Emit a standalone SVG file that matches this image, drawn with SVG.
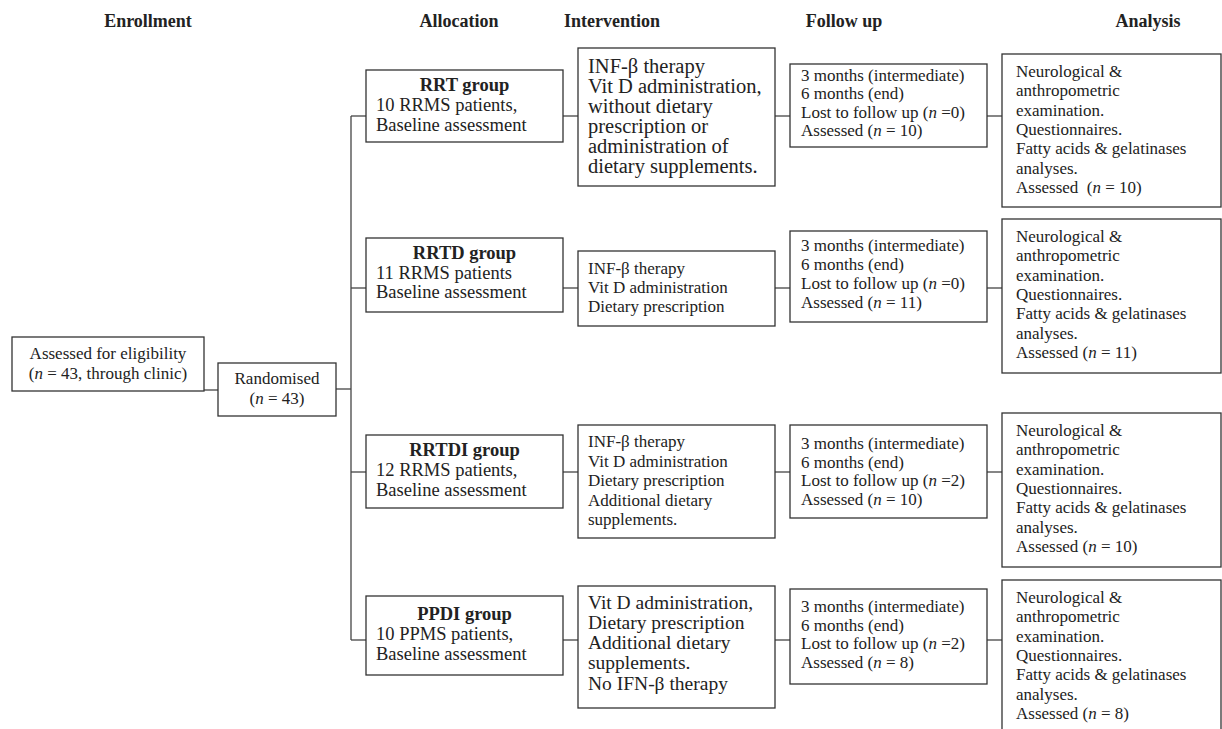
<svg xmlns="http://www.w3.org/2000/svg" width="1222" height="729" viewBox="0 0 1222 729">
<style>
text{font-family:"Liberation Serif","Times New Roman",serif;fill:#222;}
.h{font-size:18px;font-weight:bold;text-anchor:middle;}
.b{fill:#fff;stroke:#333;stroke-width:1.3;}
.c line{stroke:#444;stroke-width:1.3;}
.s17{font-size:17px;}
.s18{font-size:18.5px;}
.s20{font-size:20.5px;}
.s19{font-size:19.5px;}
.m{text-anchor:middle;}
.bd{font-weight:bold;}
.i{font-style:italic;}
</style>
<rect width="1222" height="729" fill="#fff"/>
<g id="headers">
<text class="h" x="148" y="27">Enrollment</text>
<text class="h" x="459" y="27">Allocation</text>
<text class="h" x="612" y="27">Intervention</text>
<text class="h" x="844" y="27">Follow up</text>
<text class="h" x="1148" y="27">Analysis</text>
</g>
<g id="connectors" class="c">
<line x1="204" y1="390" x2="218" y2="390"/>
<line x1="336" y1="389" x2="351" y2="389"/>
<line x1="351" y1="116" x2="351" y2="640"/>
<line x1="351" y1="116" x2="366" y2="116"/>
<line x1="351" y1="288" x2="366" y2="288"/>
<line x1="351" y1="472" x2="366" y2="472"/>
<line x1="351" y1="640" x2="366" y2="640"/>
<line x1="563" y1="116" x2="578" y2="116"/>
<line x1="775" y1="116" x2="790" y2="116"/>
<line x1="987" y1="116" x2="1002" y2="116"/>
<line x1="563" y1="288" x2="578" y2="288"/>
<line x1="775" y1="288" x2="790" y2="288"/>
<line x1="987" y1="288" x2="1002" y2="288"/>
<line x1="563" y1="472" x2="578" y2="472"/>
<line x1="775" y1="472" x2="790" y2="472"/>
<line x1="987" y1="472" x2="1002" y2="472"/>
<line x1="563" y1="640" x2="578" y2="640"/>
<line x1="775" y1="640" x2="790" y2="640"/>
<line x1="987" y1="640" x2="1002" y2="640"/>
</g>
<g id="assessed">
<rect class="b" x="12" y="337" width="192" height="54"/>
<text class="s17 m" x="108" y="359">Assessed for eligibility</text>
<text class="s17 m" x="108" y="379">(<tspan class="i">n</tspan> = 43, through clinic)</text>
</g>
<g id="randomised">
<rect class="b" x="218" y="363" width="118" height="53"/>
<text class="s17 m" x="277" y="384">Randomised</text>
<text class="s17 m" x="277" y="404">(<tspan class="i">n</tspan> = 43)</text>
</g>
<g id="alloc-rrt">
<rect class="b" x="366" y="70" width="197" height="72"/>
<text class="s18 m bd" x="464.5" y="91">RRT group</text>
<text class="s18" x="376" y="111">10 RRMS patients,</text>
<text class="s18" x="376" y="131">Baseline assessment</text>
</g>
<g id="alloc-rrtd">
<rect class="b" x="366" y="238" width="197" height="74"/>
<text class="s18 m bd" x="464.5" y="259">RRTD group</text>
<text class="s18" x="376" y="279">11 RRMS patients</text>
<text class="s18" x="376" y="298">Baseline assessment</text>
</g>
<g id="alloc-rrtdi">
<rect class="b" x="366" y="435" width="197" height="73"/>
<text class="s18 m bd" x="464.5" y="456">RRTDI group</text>
<text class="s18" x="376" y="476">12 RRMS patients,</text>
<text class="s18" x="376" y="496">Baseline assessment</text>
</g>
<g id="alloc-ppdi">
<rect class="b" x="366" y="596" width="197" height="79"/>
<text class="s18 m bd" x="464.5" y="619.5">PPDI group</text>
<text class="s18" x="376" y="640">10 PPMS patients,</text>
<text class="s18" x="376" y="660">Baseline assessment</text>
</g>
<g id="int-rrt">
<rect class="b" x="578" y="48" width="197" height="138"/>
<text class="s20" x="588" y="73">INF-β therapy</text>
<text class="s20" x="588" y="93">Vit D administration,</text>
<text class="s20" x="588" y="113">without dietary</text>
<text class="s20" x="588" y="133">prescription or</text>
<text class="s20" x="588" y="153">administration of</text>
<text class="s20" x="588" y="173">dietary supplements.</text>
</g>
<g id="int-rrtd">
<rect class="b" x="578" y="251" width="197" height="75"/>
<text class="s17" x="588" y="274">INF-β therapy</text>
<text class="s17" x="588" y="293">Vit D administration</text>
<text class="s17" x="588" y="312">Dietary prescription</text>
</g>
<g id="int-rrtdi">
<rect class="b" x="578" y="425" width="197" height="113"/>
<text class="s17" x="588" y="447">INF-β therapy</text>
<text class="s17" x="588" y="466.5">Vit D administration</text>
<text class="s17" x="588" y="486">Dietary prescription</text>
<text class="s17" x="588" y="505.5">Additional dietary</text>
<text class="s17" x="588" y="525">supplements.</text>
</g>
<g id="int-ppdi">
<rect class="b" x="578" y="586" width="197" height="122"/>
<text class="s19" x="588" y="609">Vit D administration,</text>
<text class="s19" x="588" y="629">Dietary prescription</text>
<text class="s19" x="588" y="649">Additional dietary</text>
<text class="s19" x="588" y="669">supplements.</text>
<text class="s19" x="588" y="690">No IFN-β therapy</text>
</g>
<g id="fu-rrt">
<rect class="b" x="790" y="64" width="197" height="83"/>
<text class="s17" x="801" y="80.5">3 months (intermediate)</text>
<text class="s17" x="801" y="99">6 months (end)</text>
<text class="s17" x="801" y="117.5">Lost to follow up (<tspan class="i">n</tspan> =0)</text>
<text class="s17" x="801" y="136">Assessed (<tspan class="i">n</tspan> = 10)</text>
</g>
<g id="fu-rrtd">
<rect class="b" x="790" y="231" width="197" height="91"/>
<text class="s17" x="801" y="251">3 months (intermediate)</text>
<text class="s17" x="801" y="270">6 months (end)</text>
<text class="s17" x="801" y="289">Lost to follow up (<tspan class="i">n</tspan> =0)</text>
<text class="s17" x="801" y="308">Assessed (<tspan class="i">n</tspan> = 11)</text>
</g>
<g id="fu-rrtdi">
<rect class="b" x="790" y="425" width="197" height="93"/>
<text class="s17" x="801" y="449">3 months (intermediate)</text>
<text class="s17" x="801" y="467.5">6 months (end)</text>
<text class="s17" x="801" y="486">Lost to follow up (<tspan class="i">n</tspan> =2)</text>
<text class="s17" x="801" y="504.5">Assessed (<tspan class="i">n</tspan> = 10)</text>
</g>
<g id="fu-ppdi">
<rect class="b" x="790" y="589" width="197" height="95"/>
<text class="s17" x="801" y="612">3 months (intermediate)</text>
<text class="s17" x="801" y="630.5">6 months (end)</text>
<text class="s17" x="801" y="649">Lost to follow up (<tspan class="i">n</tspan> =2)</text>
<text class="s17" x="801" y="667.5">Assessed (<tspan class="i">n</tspan> = 8)</text>
</g>
<g id="an-rrt">
<rect class="b" x="1002" y="54" width="219" height="153"/>
<text class="s17" x="1016" y="77">Neurological &amp;</text>
<text class="s17" x="1016" y="96.3">anthropometric</text>
<text class="s17" x="1016" y="115.6">examination.</text>
<text class="s17" x="1016" y="134.9">Questionnaires.</text>
<text class="s17" x="1016" y="154.2">Fatty acids &amp; gelatinases</text>
<text class="s17" x="1016" y="173.5">analyses.</text>
<text class="s17" x="1016" y="192.8">Assessed&#160; (<tspan class="i">n</tspan> = 10)</text>
</g>
<g id="an-rrtd">
<rect class="b" x="1002" y="219" width="219" height="154"/>
<text class="s17" x="1016" y="242">Neurological &amp;</text>
<text class="s17" x="1016" y="261.3">anthropometric</text>
<text class="s17" x="1016" y="280.6">examination.</text>
<text class="s17" x="1016" y="299.9">Questionnaires.</text>
<text class="s17" x="1016" y="319.2">Fatty acids &amp; gelatinases</text>
<text class="s17" x="1016" y="338.5">analyses.</text>
<text class="s17" x="1016" y="357.8">Assessed (<tspan class="i">n</tspan> = 11)</text>
</g>
<g id="an-rrtdi">
<rect class="b" x="1002" y="413" width="219" height="154"/>
<text class="s17" x="1016" y="436">Neurological &amp;</text>
<text class="s17" x="1016" y="455.3">anthropometric</text>
<text class="s17" x="1016" y="474.6">examination.</text>
<text class="s17" x="1016" y="493.9">Questionnaires.</text>
<text class="s17" x="1016" y="513.2">Fatty acids &amp; gelatinases</text>
<text class="s17" x="1016" y="532.5">analyses.</text>
<text class="s17" x="1016" y="551.8">Assessed (<tspan class="i">n</tspan> = 10)</text>
</g>
<g id="an-ppdi">
<rect class="b" x="1002" y="580" width="219" height="160"/>
<text class="s17" x="1016" y="603">Neurological &amp;</text>
<text class="s17" x="1016" y="622.3">anthropometric</text>
<text class="s17" x="1016" y="641.6">examination.</text>
<text class="s17" x="1016" y="660.9">Questionnaires.</text>
<text class="s17" x="1016" y="680.2">Fatty acids &amp; gelatinases</text>
<text class="s17" x="1016" y="699.5">analyses.</text>
<text class="s17" x="1016" y="718.8">Assessed (<tspan class="i">n</tspan> = 8)</text>
</g>
</svg>
